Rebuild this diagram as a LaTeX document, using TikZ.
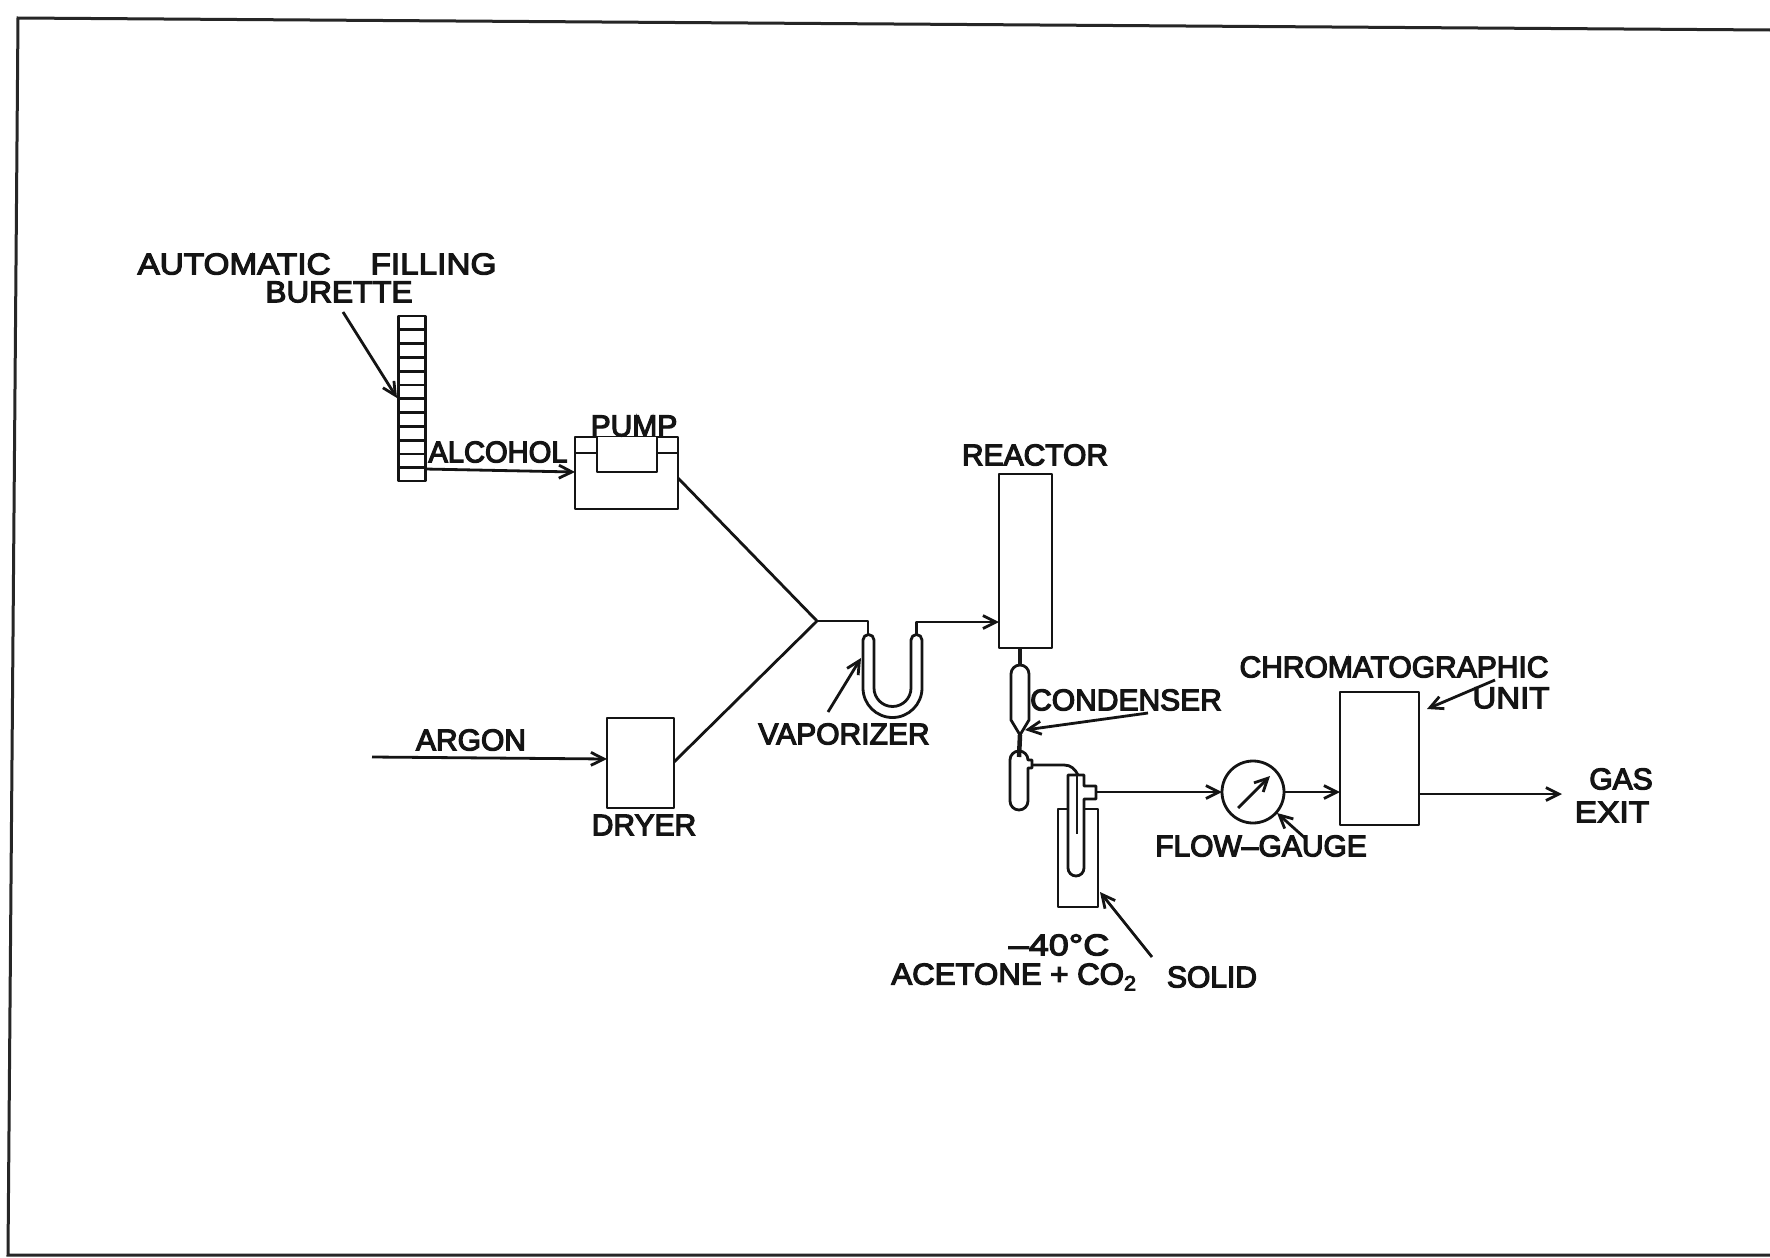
\documentclass[tikz,border=0pt]{standalone}
\usepackage{fontspec}
\setmainfont[BoldFont={Liberation Sans},BoldFeatures={FakeBold=4}]{Liberation Sans}
\usetikzlibrary{arrows.meta,calc}
\newcommand{\strch}[1]{\addfontfeature{FakeStretch=#1}}
\tikzset{
  ln/.style={line width=2.8pt,black!92,line join=round},
  arr/.style={ln,-{Straight Barb[length=13pt,width=13pt,line width=2.8pt]}},
  box/.style={draw,ln,minimum width=0pt,minimum height=0pt,inner sep=0pt,outer sep=0pt,anchor=north west},
  lab/.style={font=\fontsize{30}{30}\bfseries\selectfont,text=black!92,inner sep=0pt,anchor=center},
}
\begin{document}
\begin{tikzpicture}[x=1pt,y=-1pt]
\useasboundingbox (0,0) rectangle (1770,1258);
\fill[white] (0,0) rectangle (1770,1258);
% frame
\coordinate (ftr) at (1770,30); \coordinate (ftl) at (18,18);
\coordinate (fbl) at (8,1255); \coordinate (fbr) at (1770,1255);
\draw[line width=3pt,black!85] (ftr) -- (ftl) -- (fbl) -- (fbr);
% burette
\node[box,minimum width=27pt,minimum height=165pt] (burette) at (398.5,316) {};
\foreach \i in {1,...,11}{
  \draw[ln] ($(burette.north west)+(0,\i*13.8)$) -- ($(burette.north east)+(0,\i*13.8)$);
}
% pump
\node[box,minimum width=103pt,minimum height=72pt] (pump) at (575,437) {};
\coordinate (pL) at (597,437); \coordinate (pR) at (657,437);
\coordinate (pFL) at (575,453); \coordinate (pFR) at (678,453);
\coordinate (pFLi) at (597,453); \coordinate (pFRi) at (657,453);
\draw[ln,fill=white] (pL) -- (597,472) -- (657,472) -- (pR);
\draw[ln] (pFL) -- (pFLi); \draw[ln] (pFR) -- (pFRi);
% dryer
\node[box,minimum width=67pt,minimum height=90pt] (dryer) at (607,718) {};
% junction
\coordinate (junc) at (817,621);
\coordinate (pumpout) at (678,478);
\coordinate (dryerout) at (674,762);
\draw[ln] (pumpout) -- (junc) -- (dryerout);
% U tube
\coordinate (uL) at (868,634); \coordinate (uR) at (916.5,634);
\draw[ln] (863,640) -- (863,688) arc[start angle=180,end angle=0,radius=29.5] -- (922,640) arc[start angle=0,end angle=-180,radius=5.5] -- (911,688) arc[start angle=0,end angle=180,radius=18.5] -- (874,640) arc[start angle=0,end angle=-180,radius=5.5] -- cycle;
% reactor
\node[box,minimum width=53pt,minimum height=174pt] (reactor) at (999,474) {};
\draw[ln] (junc) -- (868,621) -- (uL);
\coordinate (reactorin) at (999,622);
\draw[arr] (uR) -- (916.5,622) -- (reactorin);
% condenser
\coordinate (condTop) at (1020,665); \coordinate (condBot) at (1020,735);
\draw[ln] (1011,674) arc[start angle=180,end angle=360,radius=9] -- (1029,720) -- (condBot) -- (1011,720) -- cycle;
\draw[line width=4.5pt,black!90] (1020,648) -- (condTop);
\draw[line width=4.5pt,black!90] (condBot) -- (1019,757);
% first trap
\draw[ln] (1010,760) arc[start angle=180,end angle=360,radius=9] -- (1028,760) -- (1032,760) -- (1032,768) -- (1028,768) -- (1028,801) arc[start angle=0,end angle=180,radius=9] -- cycle;
% second trap with dewar
\coordinate (trapOut) at (1032,765);
\coordinate (trapIn) at (1078,775);
\draw[ln] (trapOut) -- (1064,765) .. controls (1071,765) and (1075,769) .. (trapIn);
\node[box,minimum width=40pt,minimum height=98pt] (dewar) at (1058,809) {};
\draw[ln,fill=white] (1068,775) -- (1068,868) arc[start angle=180,end angle=0,radius=8] -- (1084,799) -- (1096,799) -- (1096,786) -- (1084,786) -- (1084,775) -- cycle;
\draw[line width=1.6pt,black!90] (1077,775) -- (1077,834);
% gauge
\node[draw,ln,circle,minimum size=62pt,inner sep=0pt,outer sep=0pt] (gauge) at (1253,792) {};
\coordinate (needA) at (1238,808); \coordinate (needB) at (1270,776);
\draw[arr] (needA) -- (needB);
\coordinate (trapExit) at (1097,792);
\draw[arr] (trapExit) -- (gauge.west);
% chromatographic unit
\node[box,minimum width=79pt,minimum height=133pt] (unit) at (1340,692) {};
\draw[arr] (gauge.east) -- (unit.west |- gauge.east);
\coordinate (exit) at (1562,794);
\draw[arr] (unit.east |- exit) -- (exit);
% flow arrows
\coordinate (burOut) at (425,469);
\draw[arr] (burOut) -- (575,472);
\coordinate (argIn) at (372,757);
\draw[arr] (argIn) -- (607,759);
% labels
\node[lab] (lauto) at (317,264) {\strch{1.11}AUTOMATIC\hspace{40pt}FILLING};
\node[lab] (lbur) at (339,292) {\strch{1.05}BURETTE};
\node[lab] (lalc) at (498,452) {\strch{0.97}ALCOHOL};
\node[lab] (lpump) at (634,426) {PUMP};
\node[lab] (lreact) at (1035,455) {REACTOR};
\node[lab] (lcond) at (1126,700) {CONDENSER};
\node[lab] (lchrom) at (1394,667) {CHROMATOGRAPHIC};
\node[lab] (lunit) at (1511,698) {\strch{1.1}UNIT};
\node[lab] (lgas) at (1621,779) {GAS};
\node[lab] (lexit) at (1612,812) {\strch{1.12}EXIT};
\node[lab] (lflow) at (1261,846) {FLOW–GAUGE};
\node[lab] (lvap) at (844,734) {VAPORIZER};
\node[lab] (larg) at (471,740) {ARGON};
\node[lab] (ldry) at (644,825) {DRYER};
\node[lab] (ltemp) at (1059,945) {\strch{1.2}–40°C};
\node[lab] (lace) at (1014,977) {\strch{1.04}ACETONE + CO\textsubscript{2}};
\node[lab] (lsol) at (1212,977) {SOLID};
% leader arrows
\coordinate (a1s) at (343,312); \coordinate (a1e) at (397,398);
\draw[arr] (a1s) -- (a1e);
\coordinate (a2s) at (828,712); \coordinate (a2e) at (861,658);
\draw[arr] (a2s) -- (a2e);
\coordinate (a3s) at (1148,713); \coordinate (a3e) at (1025,730);
\draw[arr] (a3s) -- (a3e);
\coordinate (a4s) at (1152,957); \coordinate (a4e) at (1100,892);
\draw[arr] (a4s) -- (a4e);
\coordinate (a5s) at (1305,838); \coordinate (a5e) at (1277,813);
\draw[arr] (a5s) -- (a5e);
\coordinate (a6s) at (1495,680); \coordinate (a6e) at (1427,709);
\draw[arr] (a6s) -- (a6e);
\end{tikzpicture}
\end{document}
